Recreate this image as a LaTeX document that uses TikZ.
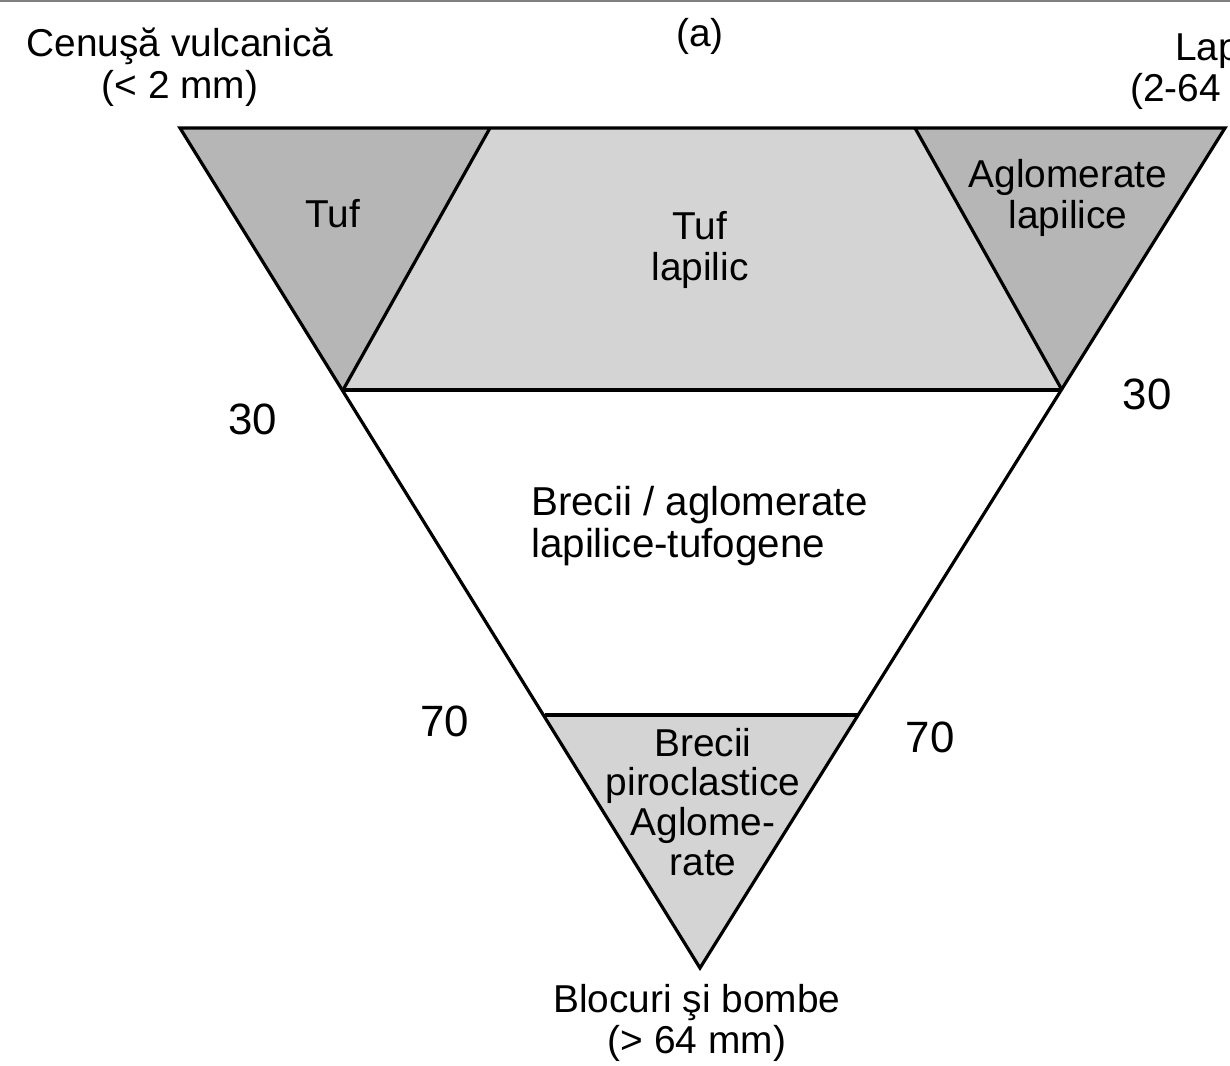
\documentclass[tikz,border=0pt]{standalone}
\usepackage{fontspec}
\setmainfont{Liberation Sans}
\definecolor{darkfill}{HTML}{B6B6B6}
\definecolor{lightfill}{HTML}{D4D4D4}
\definecolor{topline}{HTML}{808080}
\begin{document}
\begin{tikzpicture}[x=1bp,y=-1bp,
  lbl/.style={font=\fontsize{39}{42}\selectfont, inner sep=0pt, align=center},
  num/.style={font=\fontsize{44}{46}\selectfont, inner sep=0pt},
  edge/.style={line width=3.2bp, line join=miter}]
\useasboundingbox (0,0) rectangle (1230,1066);
\draw[topline, line width=2.5bp] (0,1) -- (1230,1);
% corners
\coordinate (TL) at (180,128);
\coordinate (TR) at (1225,128);
\coordinate (B) at (700,968);
\coordinate (L30) at (343,390);
\coordinate (R30) at (1062,390);
\coordinate (L70) at (545,715);
\coordinate (R70) at (858,715);
\coordinate (T1) at (490,128);
\coordinate (T2) at (915,128);
% fills
\fill[darkfill] (TL) -- (T1) -- (L30) -- cycle;
\fill[darkfill] (T2) -- (TR) -- (R30) -- cycle;
\fill[lightfill] (T1) -- (T2) -- (R30) -- (L30) -- cycle;
\fill[lightfill] (L70) -- (R70) -- (B) -- cycle;
% lines
\draw[edge] (T1) -- (L30);
\draw[edge] (T2) -- (R30);
\draw[edge] (L30) -- (R30);
\draw[edge] (L70) -- (R70);
\draw[edge] (TL) -- (TR) -- (B) -- cycle;
% labels
\node[lbl] (ash) at (180,67) {Cenuşă vulcanică\\(< 2 mm)};
\node[lbl] (a) at (700,36) {(a)};
\node[lbl, anchor=base west] (lap1) at (1175,60) {Lap};
\node[lbl, anchor=base west] (lap2) at (1130,101) {(2-64};
\node[lbl] (tuf) at (333,214) {Tuf};
\node[lbl] (tufl) at (700,250) {Tuf\\lapilic};
\node[lbl] (aglo) at (1068,198) {Aglomerate\\lapilice};
\node[num] (n30l) at (253,419) {30};
\node[num] (n30r) at (1147,394) {30};
\node[lbl, font=\fontsize{40.5}{42}\selectfont, align=left, anchor=west] (brec) at (531,526) {Brecii / aglomerate\\lapilice-tufogene};
\node[num] (n70l) at (445,721) {70};
\node[num] (n70r) at (930,737) {70};
\node[lbl, font=\fontsize{39}{40}\selectfont] (brp) at (703,802) {Brecii\\piroclastice\\Aglome-\\rate};
\node[lbl] (blo) at (697,1023) {Blocuri şi bombe\\(> 64 mm)};
\end{tikzpicture}
\end{document}
